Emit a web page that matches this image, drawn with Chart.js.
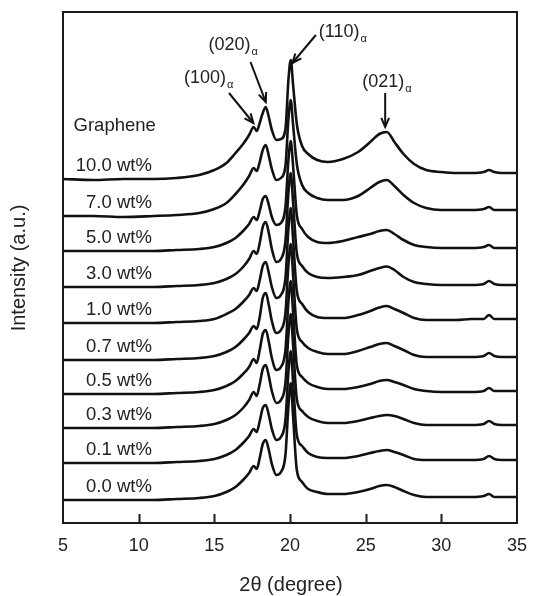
<!DOCTYPE html>
<html>
<head>
<meta charset="utf-8">
<script src="https://cdn.jsdelivr.net/npm/chart.js@4.4.0/dist/chart.umd.min.js"></script>
<style>
  body { margin: 0; background: #fff; }
  #wrap { width: 539px; height: 596px; }
</style>
</head>
<body>
<div id="wrap"><canvas id="xrdChart" width="539" height="596"></canvas></div>
<script>
// 2-theta positions shared by every pattern
const twoTheta = [5, 7, 9, 11, 12.5, 14, 15, 15.8, 16.4, 16.9, 17.3, 17.6, 17.8, 18.0, 18.2, 18.4, 18.6, 18.8,
    19.1, 19.4, 19.7, 19.9, 20.05, 20.2, 20.45, 20.8, 21.2, 21.8, 22.5, 23.5, 24.5, 25.3, 25.9, 26.4, 26.9,
    27.5, 28.2, 29, 30, 31, 32, 32.8, 33.15, 33.5, 34, 35];

// graphene loadings, bottom to top
const loadings = ['0.0 wt%', '0.1 wt%', '0.3 wt%', '0.5 wt%', '0.7 wt%', '1.0 wt%', '3.0 wt%', '5.0 wt%', '7.0 wt%', '10.0 wt%'];

// vertical stacking offset of each pattern (a.u.)
const offsets = [23, 60, 95, 129, 163, 200, 236, 272, 307, 344];

// intensities above each pattern's own baseline (a.u.)
const i00 = [0, 0, 0, 0, 1, 2, 4, 8, 13, 20, 27, 34, 31, 42, 56, 60, 50, 36, 25, 28, 45, 95, 117, 85, 30, 18, 11, 8, 6, 6, 8, 11, 14, 15, 13, 9, 5, 3, 3, 3, 3, 4, 6, 3, 3, 3];
const i01 = [0, 0, 0, 0, 1, 2, 4, 8, 13, 20, 27, 34, 31, 42, 55, 58, 48, 34, 23, 26, 43, 92, 112, 82, 28, 17, 10, 6, 5, 5, 7, 10, 12, 13, 11, 8, 4, 3, 3, 3, 3, 4, 7, 4, 3, 3];
const i03 = [0, 0, 0, 0, 1, 2, 4, 8, 13, 20, 28, 36, 32, 44, 59, 63, 52, 37, 25, 28, 45, 94, 114, 84, 29, 17, 11, 7, 5, 5, 7, 10, 12, 13, 12, 9, 5, 3, 3, 3, 3, 4, 7, 4, 3, 3];
const i05 = [0, 0, 0, 0, 1, 2, 4, 8, 13, 20, 27, 35, 31, 44, 60, 64, 52, 36, 24, 27, 44, 93, 113, 83, 29, 17, 11, 7, 5, 5, 7, 10, 13, 14, 12, 9, 5, 3, 2, 2, 2, 3, 6, 3, 3, 3];
const i07 = [0, 0, 0, 0, 1, 2, 4, 8, 13, 20, 27, 34, 31, 43, 62, 67, 55, 39, 27, 30, 47, 96, 116, 86, 31, 18, 12, 8, 6, 6, 9, 13, 16, 17, 14, 10, 5, 3, 3, 3, 3, 4, 7, 4, 3, 3];
const i10 = [0, 0, 0, 0, 1, 2, 4, 9, 14, 21, 28, 35, 32, 43, 57, 61, 50, 36, 25, 28, 45, 95, 115, 85, 32, 19, 11, 6, 5, 5, 8, 12, 15.5, 17, 14, 10, 5, 3, 3, 3, 4, 4, 8, 4, 4, 4];
const i30 = [0, 0, 0, 0, 1, 2, 4, 8, 13, 20, 28, 36, 33, 44, 60, 65, 54, 38, 25, 28, 46, 95, 114, 86, 34, 21, 14, 10, 9, 10, 12, 16, 19, 20.5, 17, 10, 5, 3, 2, 2, 2, 3, 6, 3, 2, 2];
const i50 = [0, 0, 0, 0, 1, 2, 4, 8, 13, 20, 27, 34, 31, 40, 52, 55, 46, 34, 26, 28, 44, 92, 110, 86, 36, 22, 14, 9, 8, 10, 14, 17, 20, 21, 17, 11, 6, 4, 3, 3, 3, 4, 6, 3, 3, 3];
const i70 = [0, 0, -1, 0, 1, 3, 7, 13, 22, 31, 40, 48, 45, 54, 66, 71, 60, 47, 36, 38, 50, 98, 116, 92, 52, 31, 23, 18, 16, 16, 20, 28, 34, 36, 30, 21, 13, 8, 6, 6, 6, 7, 9, 6, 6, 6];
const i100 = [0, -1, 0, 0, 1, 4, 9, 16, 26, 35, 44, 52, 48, 56, 66, 72, 62, 49, 39, 40, 50, 100, 119, 95, 55, 33, 25, 19, 17, 20, 27, 37, 45, 47, 37, 25, 15, 9, 7, 6, 6, 7, 9, 7, 6, 6];

const intensities = [i00, i01, i03, i05, i07, i10, i30, i50, i70, i100];

// peak labels: text anchor, arrow tail and arrow tip in data units
const peaks = [
    { hkl: '(100)', textX: 13.0, textY: 445, fromX: 15.97, fromY: 430, toX: 17.58, toY: 400 },
    { hkl: '(020)', textX: 14.62, textY: 478, fromX: 17.39, fromY: 461, toX: 18.40, toY: 421 },
    { hkl: '(110)', textX: 21.90, textY: 491, fromX: 21.71, fromY: 488, toX: 20.16, toY: 460 },
    { hkl: '(021)', textX: 24.78, textY: 441, fromX: 26.29, fromY: 430, toX: 26.29, toY: 396 }
];

const FONT = "'Liberation Sans', Arial, sans-serif";
const INK = '#111';

const datasets = intensities.map((vals, k) => ({
    label: loadings[k],
    data: twoTheta.map((t, i) => ({ x: t, y: vals[i] + offsets[k] })),
    borderColor: INK,
    borderWidth: 2.6,
    pointRadius: 0,
    fill: false,
    cubicInterpolationMode: 'monotone'
}));

const drawArrow = (ctx, x1, y1, x2, y2) => {
    const ang = Math.atan2(y2 - y1, x2 - x1);
    const head = 10;
    ctx.beginPath();
    ctx.moveTo(x1, y1);
    ctx.lineTo(x2, y2);
    ctx.stroke();
    ctx.beginPath();
    ctx.moveTo(x2 - head * Math.cos(ang - 0.4), y2 - head * Math.sin(ang - 0.4));
    ctx.lineTo(x2, y2);
    ctx.lineTo(x2 - head * Math.cos(ang + 0.4), y2 - head * Math.sin(ang + 0.4));
    ctx.stroke();
};

const decorations = {
    id: 'decorations',
    afterDraw(chart) {
        const { ctx, chartArea: a, scales: { x, y } } = chart;
        ctx.save();

        // frame
        ctx.strokeStyle = '#1a1a1a';
        ctx.lineWidth = 2;
        ctx.strokeRect(a.left, a.top, a.right - a.left, a.bottom - a.top);

        // inward ticks on the bottom axis
        [10, 15, 20, 25, 30].forEach(v => {
            const px = Math.round(x.getPixelForValue(v)) + 0.5;
            ctx.beginPath();
            ctx.moveTo(px, a.bottom);
            ctx.lineTo(px, a.bottom - 9);
            ctx.stroke();
        });

        // axis titles
        ctx.fillStyle = '#222';
        ctx.font = '20px ' + FONT;
        ctx.textAlign = 'center';
        ctx.textBaseline = 'middle';
        ctx.fillText('2\u03b8 (degree)', (a.left + a.right) / 2 + 1, 585);
        ctx.save();
        ctx.translate(19, 268);
        ctx.rotate(-Math.PI / 2);
        ctx.fillText('Intensity (a.u.)', 0, 0);
        ctx.restore();

        // loading labels, right aligned above each pattern
        ctx.font = '18.5px ' + FONT;
        ctx.textAlign = 'right';
        ctx.textBaseline = 'alphabetic';
        const labelRight = x.getPixelForValue(10.87);
        loadings.forEach((txt, k) => {
            ctx.fillText(txt, labelRight, y.getPixelForValue(offsets[k]) - 8);
        });
        ctx.fillText('Graphene', labelRight + 4, 131);

        // peak labels with arrows
        peaks.forEach(p => {
            const tx = x.getPixelForValue(p.textX);
            const ty = y.getPixelForValue(p.textY);
            ctx.font = '18px ' + FONT;
            ctx.textAlign = 'left';
            ctx.textBaseline = 'middle';
            ctx.fillStyle = '#222';
            ctx.fillText(p.hkl, tx, ty);
            const w = ctx.measureText(p.hkl).width;
            ctx.font = '11px ' + FONT;
            ctx.fillText('\u03b1', tx + w + 1, ty + 7);
            ctx.strokeStyle = INK;
            ctx.lineWidth = 2;
            drawArrow(ctx, x.getPixelForValue(p.fromX), y.getPixelForValue(p.fromY),
                x.getPixelForValue(p.toX), y.getPixelForValue(p.toY));
        });

        ctx.restore();
    }
};

new Chart(document.getElementById('xrdChart').getContext('2d'), {
    type: 'line',
    data: { datasets },
    options: {
        responsive: false,
        animation: false,
        layout: { padding: { top: 12, right: 11, left: 0, bottom: 0 } },
        plugins: { legend: { display: false }, tooltip: { enabled: false } },
        scales: {
            x: {
                type: 'linear',
                min: 5,
                max: 35,
                ticks: { stepSize: 5, color: '#222', font: { size: 18, family: FONT }, padding: 12, maxRotation: 0 },
                grid: { display: false, drawTicks: false },
                border: { display: false },
                afterFit: s => { s.height = 73; }
            },
            y: {
                min: 0,
                max: 511,
                ticks: { display: false },
                grid: { display: false, drawTicks: false },
                border: { display: false },
                afterFit: s => { s.width = 63; }
            }
        }
    },
    plugins: [decorations]
});
</script>
</body>
</html>
